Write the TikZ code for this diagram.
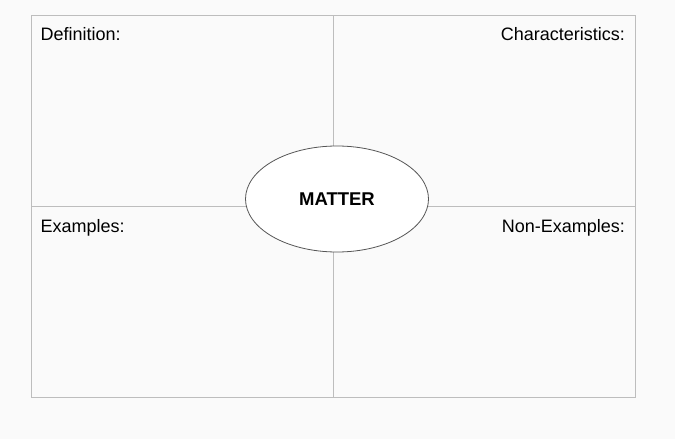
\documentclass[tikz,border=0pt]{standalone}
\usepackage{fontspec}
\setmainfont{Liberation Sans}
\usetikzlibrary{shapes.geometric}
\definecolor{bgc}{HTML}{FAFAFA}
\definecolor{linec}{HTML}{BDBDBD}
\definecolor{ellc}{HTML}{555555}
\tikzset{
  label/.style={inner sep=0pt, font=\fontsize{18}{21}\selectfont, text=black},
  grid/.style={draw=linec, line width=1pt},
  centre/.style={ellipse, draw=ellc, fill=white, line width=0.8pt, minimum width=183pt, minimum height=106pt, inner sep=0pt, font=\fontsize{18.5}{21}\selectfont\bfseries}
}
\begin{document}
\begin{tikzpicture}[x=1pt,y=-1pt]
\fill[bgc] (0,0) rectangle (675,439);
\useasboundingbox (0,0) rectangle (675,439);
\node[draw=linec, line width=1.2pt, fill=bgc, minimum width=604pt, minimum height=382pt, inner sep=0pt, anchor=north west] (frame) at (31,15) {};
\coordinate (top) at (333,15);
\coordinate (bottom) at (333,397);
\coordinate (left) at (31,206);
\coordinate (right) at (635,206);
\draw[grid] (top) -- (bottom);
\draw[grid] (left) -- (right);
\node[centre] (matter) at (337,199) {MATTER};
\node[label, anchor=base west] (def) at (40.5,40) {Definition:};
\node[label, anchor=base east] (char) at (625,40) {Characteristics:};
\node[label, anchor=base west] (ex) at (40.5,232.7) {Examples:};
\node[label, anchor=base east] (nonex) at (625,232.7) {Non-Examples:};
\end{tikzpicture}
\end{document}
